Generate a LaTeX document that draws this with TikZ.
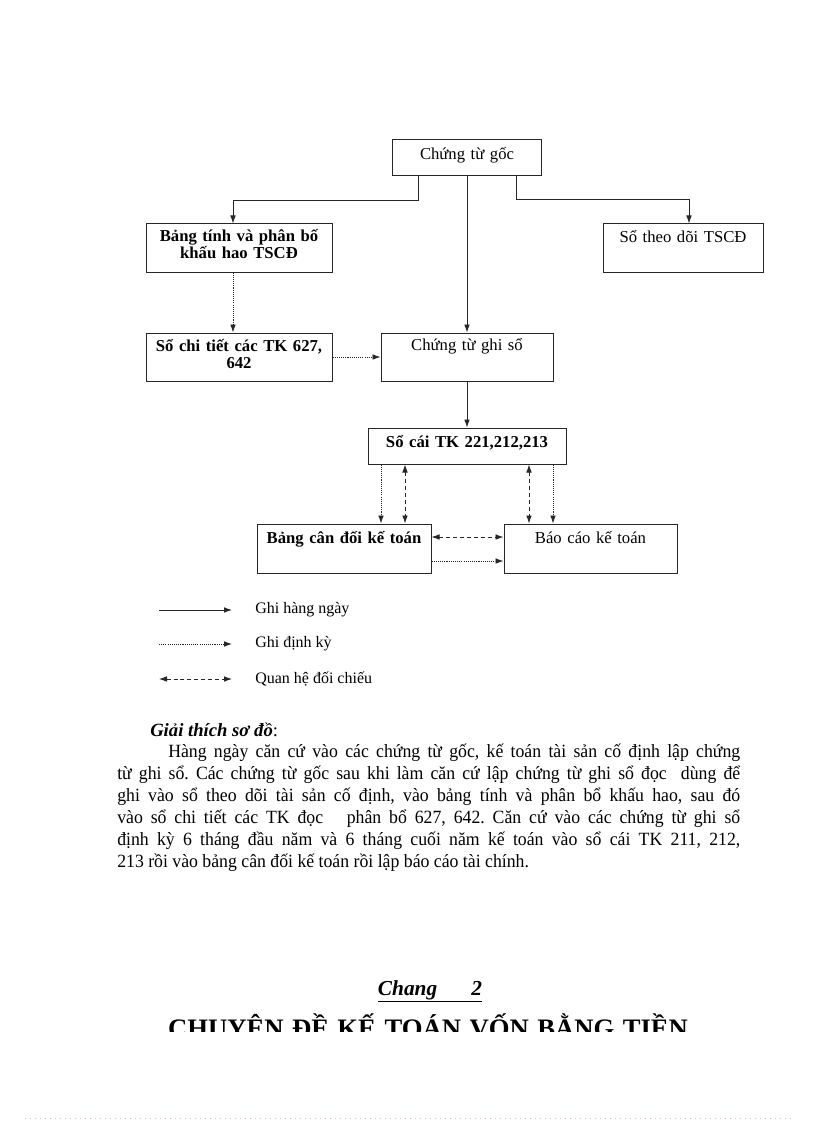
\documentclass[tikz,border=0pt]{standalone}
\usepackage{fontspec}
\setmainfont{Liberation Serif}
\newfontfamily\bodyfont[FakeStretch=0.95]{Liberation Serif}
\usetikzlibrary{arrows.meta,calc}
\newcommand{\jline}[1]{\makebox[467.25pt][s]{#1}}
\frenchspacing
\begin{document}
\begin{tikzpicture}[x=0.75pt,y=-0.75pt,
  >={Latex[length=6pt,width=4.2pt]},
  box/.style={draw=black!85, line width=0.75pt, inner xsep=0pt, inner ysep=0pt,
    align=center, font=\fontsize{12.5}{12.75}\selectfont},
  boxb/.style={box, font=\fontsize{12.5}{12.75}\selectfont\bfseries},
  conn/.style={line width=0.6pt, draw=black!85, ->},
  dotc/.style={conn, dash pattern=on 0.8pt off 0.8pt},
  dashc/.style={conn, <->, dash pattern=on 3pt off 2.2pt},
  legtext/.style={anchor=west, inner sep=0pt, font=\fontsize{12}{14}\selectfont},
  bodyline/.style={anchor=base west, inner sep=0pt, font=\bodyfont\fontsize{14}{16}\selectfont}
]
\fill[white] (0,0) rectangle (816,1123);
\useasboundingbox (0,0) rectangle (816,1123);

% boxes
\node[box, text width=111.75pt, text height=15pt, text depth=12pt] (g) at (467,158) {Chứng từ gốc};
\node[boxb, text width=139.5pt, text height=13.5pt, text depth=22.5pt] (bt) at (239,248) {Bảng tính và phân bố\\khấu hao TSCĐ};
\node[box, text width=120pt, text height=14.25pt, text depth=21.75pt] (td) at (683,248) {Sổ theo dõi TSCĐ};
\node[boxb, text width=139.5pt, text height=13.5pt, text depth=22.5pt] (ct) at (239,357) {Sổ chi tiết các TK 627,\\642};
\node[box, text width=129pt, text height=12.75pt, text depth=23.25pt] (gs) at (467,357) {Chứng từ ghi sổ};
\node[boxb, text width=148.5pt, text height=14.25pt, text depth=12.75pt] (sc) at (467,446) {Sổ cái TK 221,212,213};
\node[boxb, text width=130.5pt, text height=14.25pt, text depth=22.5pt] (cd) at (344,548.5) {Bảng cân đối kế toán};
\node[box, text width=129.75pt, text height=14.25pt, text depth=22.5pt] (bc) at (590.5,548.5) {Báo cáo kế toán};

% connectors
\draw[conn] ($(g.south)+(-49,0)$) |- ($(bt.north)+(-6,-23)$) -- ($(bt.north)+(-6,0)$);
\draw[conn] ($(g.south)+(49,0)$) |- ($(td.north)+(6,-24)$) -- ($(td.north)+(6,0)$);
\draw[conn] (g.south) -- (gs.north);
\draw[dotc] ($(bt.south)+(-6,0)$) -- ($(ct.north)+(-6,0)$);
\draw[dotc] (ct.east) -- (gs.west);
\draw[conn] (gs.south) -- (sc.north);
\draw[dotc] ($(sc.south)+(-86,0)$) -- ($(cd.north)+(37,0)$);
\draw[dashc] ($(sc.south)+(-62,0)$) -- ($(cd.north)+(61,0)$);
\draw[dashc] ($(sc.south)+(62,0)$) -- ($(bc.north)+(-61.5,0)$);
\draw[dotc] ($(sc.south)+(86,0)$) -- ($(bc.north)+(-37.5,0)$);
\draw[dashc] ($(cd.east)+(0,-11.5)$) -- ($(bc.west)+(0,-11.5)$);
\draw[dotc] ($(cd.east)+(0,12.5)$) -- ($(bc.west)+(0,12.5)$);

% legend
\coordinate (l1a) at (159,610); \coordinate (l1b) at (232,610);
\coordinate (l2a) at (159,644); \coordinate (l2b) at (232,644);
\coordinate (l3a) at (159,679); \coordinate (l3b) at (232,679);
\draw[conn] (l1a) -- (l1b);
\draw[dotc] (l2a) -- (l2b);
\draw[dashc] (l3a) -- (l3b);
\node[legtext] (lt1) at (255,610) {Ghi hàng ngày};
\node[legtext] (lt2) at (255,644) {Ghi định kỳ};
\node[legtext] (lt3) at (255,679) {Quan hệ đối chiếu};

% explanation
\node[bodyline, font=\fontsize{14}{16}\selectfont] (gt) at (150,736) {\textbf{\textit{Giải thích sơ đồ}}:};
\node[bodyline] (p1) at (168,757) {\makebox[429pt][s]{Hàng ngày căn cứ vào các chứng từ gốc, kế toán tài sản cố định lập chứng}};
\node[bodyline] (p2) at (117,779) {\jline{từ ghi sổ. Các chứng từ gốc sau khi làm căn cứ lập chứng từ ghi sổ đọc\ \ dùng để}};
\node[bodyline] (p3) at (117,801) {\jline{ghi vào sổ theo dõi tài sản cố định, vào bảng tính và phân bổ khấu hao, sau đó}};
\node[bodyline] (p4) at (117,823) {\jline{vào sổ chi tiết các TK đọc\ \ \ phân bổ 627, 642. Căn cứ vào các chứng từ ghi sổ}};
\node[bodyline] (p5) at (117,845) {\jline{định kỳ 6 tháng đầu năm và 6 tháng cuối năm kế toán vào sổ cái TK 211, 212,}};
\node[bodyline] (p6) at (117,867) {213 rồi vào bảng cân đối kế toán rồi lập báo cáo tài chính.};

% chapter heading
\node[anchor=base, inner sep=0pt, font=\fontsize{16}{18}\selectfont\bfseries\itshape] (ch) at (430,995) {\underline{Chang\hspace{1.6em}2}};
\begin{scope}
\clip (0,0) rectangle (816,1031);
\node[anchor=base, inner sep=0pt, font=\fontsize{20}{22}\selectfont\bfseries] (tt) at (428,1037) {\makebox[390pt][s]{CHUYÊN ĐỀ KẾ TOÁN VỐN BẰNG TIỀN}};
\end{scope}

% page marker
\draw[draw={rgb,255:red,235;green,175;blue,235}, line width=0.6pt, dash pattern=on 0.75pt off 3pt] (25,1118) -- (795,1118);
\end{tikzpicture}
\end{document}
